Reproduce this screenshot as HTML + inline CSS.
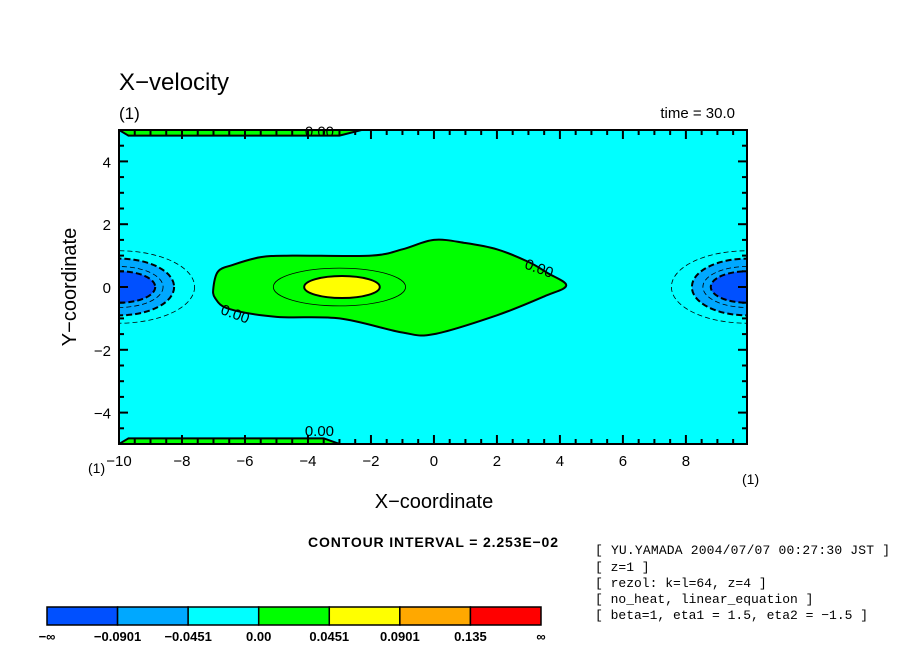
<!DOCTYPE html>
<html><head><meta charset="utf-8"><style>
body{margin:0;background:#fff;width:904px;height:654px;overflow:hidden}
svg text{font-family:"Liberation Sans",sans-serif}
svg text.mono{font-family:"Liberation Mono",monospace}
</style></head><body>
<svg id="chart" width="904" height="654" xmlns="http://www.w3.org/2000/svg">
<text x="119" y="90" font-size="24">X−velocity</text>
<text x="119" y="119" font-size="17">(1)</text>
<text x="735" y="118" font-size="15" text-anchor="end">time = 30.0</text>
<g id="plot"></g>
<g id="axes"></g>
<text x="434" y="508" font-size="20" text-anchor="middle">X−coordinate</text>
<text transform="translate(76,287) rotate(-90)" font-size="20" text-anchor="middle">Y−coordinate</text>
<text x="88" y="473" font-size="14">(1)</text>
<text x="742" y="484" font-size="14">(1)</text>
<text x="308" y="547" font-size="14" font-weight="bold" textLength="250">CONTOUR INTERVAL = 2.253E−02</text>
<g font-size="13">
<text class="mono" x="595" y="554" textLength="295">[ YU.YAMADA 2004/07/07 00:27:30 JST ]</text>
<text class="mono" x="595" y="571">[ z=1 ]</text>
<text class="mono" x="595" y="587">[ rezol: k=l=64, z=4 ]</text>
<text class="mono" x="595" y="603">[ no_heat, linear_equation ]</text>
<text class="mono" x="595" y="619">[ beta=1, eta1 = 1.5, eta2 = −1.5 ]</text>
</g>
<g id="legend"></g>
</svg>
<script>
const xDomain=[-10,9.94], yDomain=[-5,5];
const xTicks=[-10,-8,-6,-4,-2,0,2,4,6,8];
const yTicks=[-4,-2,0,2,4];
const zeroX=[-7.0,-6.85,-6.4,-5.5,-4.5,-2,-1,0,1,2,3,3.6,4.2,3.5,2,0,-1,-3,-5,-6.5,-6.95];
const zeroY=[0.0,0.5,0.7,0.95,1.0,1.0,1.2,1.5,1.4,1.2,0.8,0.45,0.05,-0.3,-0.9,-1.5,-1.45,-1.0,-0.95,-0.7,-0.35];
const legendColors=["#0050ff","#00a8ff","#00ffff","#00ff00","#ffff00","#ffa800","#ff0000"];
const legendLabels=["−∞","−0.0901","−0.0451","0.00","0.0451","0.0901","0.135","∞"];
const L=119,R=747,T=130,B=444;
const sx=v=>L+(v-xDomain[0])/(xDomain[1]-xDomain[0])*(R-L);
const sy=v=>B-(v-yDomain[0])/(yDomain[1]-yDomain[0])*(B-T);
const NS="http://www.w3.org/2000/svg";
function mk(tag,attrs,parent){const e=document.createElementNS(NS,tag);for(const k in attrs)e.setAttribute(k,attrs[k]);parent.appendChild(e);return e;}
const plot=document.getElementById('plot'), axes=document.getElementById('axes');
const defs=mk('defs',{},plot);const cp=mk('clipPath',{id:'c'},defs);mk('rect',{x:L,y:T,width:R-L,height:B-T},cp);
const g=mk('g',{'clip-path':'url(#c)'},plot);
let bg=mk('rect',{x:L,y:T,width:R-L,height:B-T,fill:'#00ffff'},g);

let st=mk('path',{d:`M${sx(-10)},${sy(5)} L${sx(-2.3)},${sy(5)} L${sx(-3)},${sy(4.82)} L${sx(-9.7)},${sy(4.82)} Z`,fill:'#00ff00',stroke:'#000','stroke-width':2},g);

let sb=mk('path',{d:`M${sx(-10)},${sy(-5)} L${sx(-3)},${sy(-5)} L${sx(-3.5)},${sy(-4.82)} L${sx(-9.7)},${sy(-4.82)} Z`,fill:'#00ff00',stroke:'#000','stroke-width':2},g);

// smooth closed Catmull-Rom
let pts=zeroX.map((x,i)=>[sx(x),sy(zeroY[i])]);
const n=pts.length;let d='M'+pts[0].join(',');
for(let i=0;i<n;i++){const p0=pts[(i-1+n)%n],p1=pts[i],p2=pts[(i+1)%n],p3=pts[(i+2)%n];
 const c1=[p1[0]+(p2[0]-p0[0])/6,p1[1]+(p2[1]-p0[1])/6],c2=[p2[0]-(p3[0]-p1[0])/6,p2[1]-(p3[1]-p1[1])/6];
 d+=` C${c1.join(',')} ${c2.join(',')} ${p2.join(',')}`;}
let gr=mk('path',{d:d+'Z',fill:'#00ff00',stroke:'#000','stroke-width':2,'stroke-linejoin':'round'},g);

function ell(cx,cy,rx,ry,attrs,name){const e=mk('ellipse',Object.assign({cx:sx(cx),cy:sy(cy),rx:rx*31.5,ry:ry*31.5},attrs),g);}
ell(-3,0,2.1,0.6,{fill:'none',stroke:'#000','stroke-width':0.8},'contour-0.0225');
ell(-2.92,0,1.2,0.35,{fill:'#ffff00',stroke:'#000','stroke-width':2},'contour-0.0451');
[[-10,1],[9.94,-1]].forEach(([cx,s],i)=>{
 const side=i?'right':'left';
 ell(cx,0,2.4,1.15,{fill:'none',stroke:'#000','stroke-width':0.8,'stroke-dasharray':'5,3'},side+'-contour-neg1');
 ell(cx,0,1.75,0.9,{fill:'#00a8ff',stroke:'#000','stroke-width':2,'stroke-dasharray':'6,3'},side+'-contour-neg2');
 ell(cx,0,1.4,0.65,{fill:'none',stroke:'#000','stroke-width':0.8,'stroke-dasharray':'5,3'},side+'-contour-neg3');
 ell(cx,0,1.15,0.5,{fill:'#0050ff',stroke:'#000','stroke-width':2,'stroke-dasharray':'6,3'},side+'-contour-neg4');
});
[[-6.8,-0.85,20],[2.85,0.6,20],[-4.1,4.8,0],[-4.1,-4.75,0]].forEach(([x,y,r])=>{
 const t=mk('text',{x:sx(x),y:sy(y),'font-size':15,transform:`rotate(${r},${sx(x)},${sy(y)})`},plot);t.textContent='0.00';
 
});
let fr=mk('rect',{x:L,y:T,width:R-L,height:B-T,fill:'none',stroke:'#000','stroke-width':2},axes);

for(let v=-10;v<=9.94;v+=0.5){const X=sx(v),maj=Number.isInteger(v/2);const ln=maj?9:5;
 mk('line',{x1:X,y1:B,x2:X,y2:B-ln,stroke:'#000','stroke-width':2},axes);mk('line',{x1:X,y1:T,x2:X,y2:T+ln,stroke:'#000','stroke-width':2},axes);}
for(let v=-5;v<=5;v+=0.5){const Y=sy(v),maj=Number.isInteger(v/2);const ln=maj?9:5;
 mk('line',{x1:L,y1:Y,x2:L+ln,y2:Y,stroke:'#000','stroke-width':2},axes);mk('line',{x1:R,y1:Y,x2:R-ln,y2:Y,stroke:'#000','stroke-width':2},axes);}
xTicks.forEach(v=>{const t=mk('text',{x:sx(v),y:B+22,'font-size':15,'text-anchor':'middle'},axes);t.textContent=v<0?'−'+(-v):v;
 });
yTicks.forEach(v=>{const t=mk('text',{x:L-8,y:sy(v)+6,'font-size':15,'text-anchor':'end'},axes);t.textContent=v<0?'−'+(-v):v;
 });
const lg=document.getElementById('legend');const lx=47,lw=494/legendColors.length;
legendColors.forEach((c,i)=>{const r=mk('rect',{x:lx+i*lw,y:607,width:lw,height:18,fill:c,stroke:'#000','stroke-width':1.5},lg);
 });
legendLabels.forEach((s,i)=>{const t=mk('text',{x:lx+i*lw,y:641,'font-size':13,'font-weight':'bold','text-anchor':'middle'},lg);t.textContent=s;
 });
</script>
</body></html>
